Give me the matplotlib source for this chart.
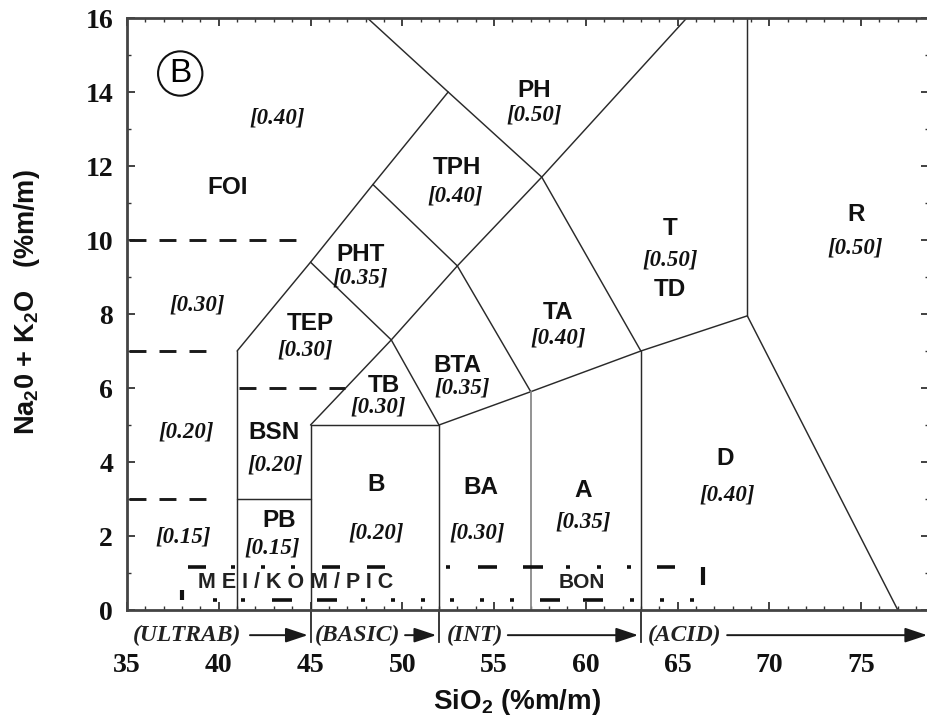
import matplotlib
matplotlib.use("Agg")
import matplotlib.pyplot as plt
from matplotlib.ticker import MultipleLocator

plt.rcParams['lines.scale_dashes'] = False
plt.rcParams['mathtext.fontset'] = 'custom'
plt.rcParams['mathtext.rm'] = 'Liberation Sans:bold'
plt.rcParams['mathtext.it'] = 'Liberation Sans:bold'
plt.rcParams['mathtext.bf'] = 'Liberation Sans:bold'

# ---------------- data ----------------
xticks = [35, 40, 45, 50, 55, 60, 65, 70, 75]
yticks = [0, 2, 4, 6, 8, 10, 12, 14, 16]

# solid field boundaries (SiO2, Na2O+K2O)
boundaries = [
    ([41, 41], [0, 7]),
    ([41, 45, 48.4, 52.5], [7, 9.4, 11.5, 14]),
    ([48.1, 52.5, 57.6, 63], [16, 14, 11.7, 7]),
    ([45, 49.4, 52], [9.4, 7.3, 5]),
    ([48.4, 53, 57], [11.5, 9.3, 5.9]),
    ([45, 49.4, 53, 57.6, 65.5], [5, 7.3, 9.3, 11.7, 16]),
    ([45, 45, 52, 52], [0, 5, 5, 0]),
    ([52, 57, 63, 68.8, 77.0], [5, 5.9, 7, 7.95, 0]),
    ([68.8, 68.8], [7.95, 16]),
    ([63, 63], [0, 7]),
    ([41, 45], [3, 3]),
]
grey_boundary = ([57, 57], [0, 5.9])

# dashed subdivisions
dashed = [
    ([35.1, 44.9], [10, 10]),
    ([35.1, 40.0], [7, 7]),
    ([35.1, 39.7], [3, 3]),
    ([41.1, 46.9], [6, 6]),
]

# field names and positions
field_names = ["FOI", "TEP", "BSN", "PB", "B", "TB", "BTA", "PHT", "TPH", "PH",
               "TA", "T", "TD", "BA", "A", "D", "R"]
field_x = [40.5, 45.0, 43.0, 43.3, 48.6, 49.0, 53.0, 47.7, 53.0, 57.2,
           58.5, 64.6, 64.6, 54.3, 59.85, 67.6, 74.7]
field_y = [11.43, 7.75, 4.81, 2.43, 3.38, 6.08, 6.62, 9.6, 11.95, 14.05,
           8.05, 10.3, 8.65, 3.32, 3.24, 4.1, 10.68]

# bracketed values
val_text = ["[0.40]", "[0.30]", "[0.20]", "[0.15]", "[0.30]", "[0.20]", "[0.15]",
            "[0.20]", "[0.30]", "[0.35]", "[0.35]", "[0.40]", "[0.50]", "[0.40]",
            "[0.50]", "[0.30]", "[0.35]", "[0.40]", "[0.50]"]
val_x = [43.2, 38.8, 38.2, 38.05, 44.7, 43.1, 42.9,
         48.6, 48.7, 53.25, 47.7, 52.9, 57.2, 58.5,
         64.6, 54.1, 59.85, 67.7, 74.7]
val_y = [13.3, 8.24, 4.81, 1.97, 7.03, 3.92, 1.68,
         2.08, 5.49, 6.0, 8.97, 11.2, 13.38, 7.35,
         9.46, 2.08, 2.38, 3.1, 9.78]

# silica classes under the axis
class_names = ["(ULTRAB)", "(BASIC)", "(INT)", "(ACID)"]
class_text_x = [35.3, 45.25, 52.4, 63.4]
class_arrow = [(41.7, 44.85), (50.15, 51.85), (55.75, 62.85), (67.7, 78.6)]
class_dividers = [45, 52, 63]

# low-alkali range (MEI/KOM/PIC, BON)
range_x = [38.0, 66.4]
range_top = 1.16
range_bottom = 0.27

# ---------------- figure ----------------
fig = plt.figure(figsize=(9.27, 7.28), dpi=100)
W, H = 927, 728
ax = fig.add_axes([127 / W, 118 / H, 802 / W, 592 / H])
ax.set_xlim(35, 78.7)
ax.set_ylim(0, 16)

lc = '#2a2a2a'
for xs, ys in boundaries:
    ax.plot(xs, ys, color=lc, lw=1.05, solid_capstyle='round', zorder=2)
ax.plot(*grey_boundary, color='#8a8a8a', lw=1.3, zorder=2)

for xs, ys in dashed:
    ax.plot(xs, ys, color='#1a1a1a', lw=2.1, linestyle=(0, (12.2, 9.4)),
            dash_capstyle='butt', zorder=2)

sans = 'Liberation Sans'
serif = 'Liberation Serif'
for n, x, y in zip(field_names, field_x, field_y):
    ax.text(x, y, n, family=sans, weight='bold', fontsize=17.5,
            ha='center', va='center', color='#111111', zorder=3)
for t, x, y in zip(val_text, val_x, val_y):
    ax.text(x, y, t, family=serif, weight='bold', style='italic', fontsize=16.5,
            ha='center', va='center', color='#111111', zorder=3)

# circled B
ax.text(37.9, 14.5, "B", family=sans, fontsize=24, ha='center', va='center',
        bbox=dict(boxstyle='circle,pad=0.2', fc='none', ec='#111111', lw=1.5))

# ---- low-alkali range lines ----
px = 0.72  # pixel -> point
top_seq = [18, 25, 4, 26, 4, 26, 4, 27, 18, 27, 18, 61, 4, 28, 19, 26, 20, 23,
           4, 27, 4, 26, 4, 26, 18, 120]
top_seq = [v * px for v in top_seq]
bot_seq = [4, 24, 4, 27, 20, 25, 20, 24, 4, 26, 4, 26, 4, 25, 4, 26, 4, 26, 4, 26,
           20, 23, 20, 27, 4, 26, 4, 26, 4, 120]
bot_seq = [v * px for v in bot_seq]
bot_off = sum(bot_seq) - 31 * px
ax.plot([range_x[0] + 0.33, range_x[1]], [range_top, range_top], color='#111111', lw=2.6,
        linestyle=(0, top_seq), dash_capstyle='butt', zorder=3, clip_on=False)
ax.plot(range_x, [range_bottom, range_bottom], color='#111111', lw=2.6,
        linestyle=(bot_off, bot_seq), dash_capstyle='butt', zorder=3, clip_on=False)
ax.plot([range_x[0], range_x[0]], [range_bottom, range_bottom + 0.27], color='#111111',
        lw=3.0, solid_capstyle='butt', zorder=3)
ax.plot([range_x[1], range_x[1]], [range_top, range_top - 0.48], color='#111111',
        lw=3.0, solid_capstyle='butt', zorder=3)
ax.text(44.2, 0.73, "M E I / K O M / P I C", family=sans, weight='bold', fontsize=15.5,
        ha='center', va='center', color='#222222', zorder=3)
ax.text(59.8, 0.73, "BON", family=sans, weight='bold', fontsize=15,
        ha='center', va='center', color='#222222', zorder=3)

# ---- silica classes under the axis ----
yrow = -0.68
for name, tx in zip(class_names, class_text_x):
    ax.text(tx, yrow, name, family=serif, weight='bold', style='italic', fontsize=17,
            ha='left', va='center', color='#222222', clip_on=False)
for (a0, a1) in class_arrow:
    ax.annotate("", xy=(a1, yrow), xytext=(a0, yrow), xycoords='data',
                annotation_clip=False,
                arrowprops=dict(arrowstyle='-|>,head_length=1.35,head_width=0.45',
                                color='#1a1a1a', lw=1.4, shrinkA=0, shrinkB=0))
for xd in class_dividers:
    ax.plot([xd, xd], [0, -0.87], color=lc, lw=1.3, clip_on=False)

# ---- axes styling ----
for s in ax.spines.values():
    s.set_linewidth(2.0)
    s.set_color('#444444')
ax.set_xticks(xticks)
ax.set_yticks(yticks)
ax.xaxis.set_minor_locator(MultipleLocator(1))
ax.yaxis.set_minor_locator(MultipleLocator(1))
ax.tick_params(which='both', direction='in', top=True, right=True, color='#333333')
ax.tick_params(which='major', length=6, width=1.3)
ax.tick_params(which='minor', length=3, width=1.0)
ax.tick_params(axis='x', pad=31)
ax.tick_params(axis='y', pad=10)
for lab in ax.get_xticklabels() + ax.get_yticklabels():
    lab.set_family(serif)
    lab.set_weight('bold')
    lab.set_fontsize(20)
    lab.set_color('#111111')

ax.set_xlabel("SiO$_2$ (%m/m)", family=sans, weight='bold', fontsize=20, color='#111111')
ax.xaxis.set_label_coords(0.486, -0.13)
ax.set_ylabel("Na$_2$0 + K$_2$O   (%m/m)", family=sans, weight='bold', fontsize=19.5,
              color='#111111')
ax.yaxis.set_label_coords(-0.106, 0.52)

fig.savefig("out.png", dpi=100)
